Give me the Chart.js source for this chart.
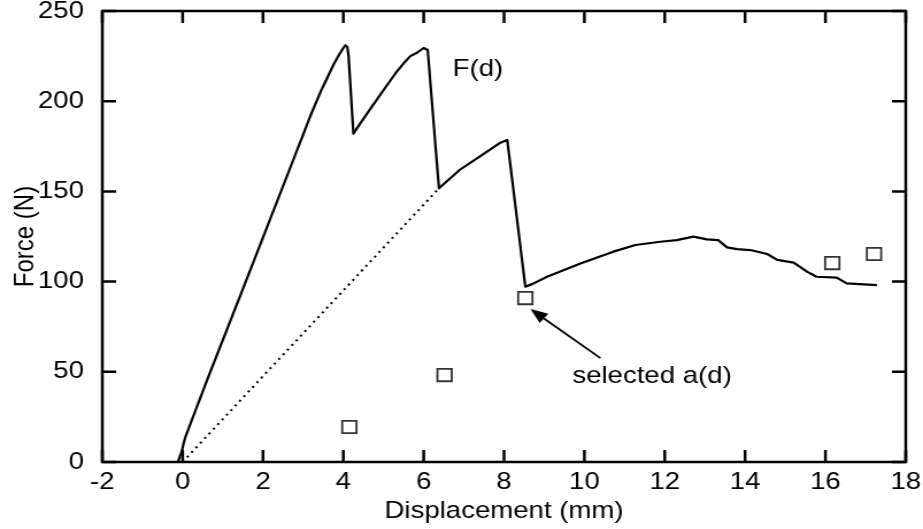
<!DOCTYPE html>
<html>
<head>
<meta charset="utf-8">
<script src="https://cdn.jsdelivr.net/npm/chart.js@4/dist/chart.umd.min.js"></script>
<style>
  html, body { margin: 0; padding: 0; background: #fff; overflow: hidden; }
  #c { display: block; width: 803px; height: 529px; transform: scaleX(1.14944); transform-origin: 0 0; }
</style>
</head>
<body>
<canvas id="c" width="803" height="529"></canvas>
<script>
// F(d) curve (mm, N)
const fdX = [-0.12, -0.02, 0.02, 0.07, 0.61, 1.5, 2.5, 3.2, 3.43, 3.6, 3.75, 3.9, 4.0, 4.05, 4.1, 4.13, 4.25,
  4.4, 4.68, 5.09, 5.3, 5.5, 5.67, 5.84, 6.0, 6.1, 6.38, 6.9, 7.41, 7.91, 8.08, 8.53,
  8.7, 9.07, 9.9, 10.72, 11.27, 11.89, 12.3, 12.71, 13.05, 13.33, 13.55, 13.8, 14.13, 14.55,
  14.8, 15.21, 15.54, 15.78, 16.28, 16.53, 17.28];
const fdY = [0, 6, 10, 14, 45.5, 96, 153, 193, 205, 213, 220, 226, 229.5, 231, 230, 225, 182,
  187, 196, 209, 215.5, 221, 225, 227, 229.5, 228.4, 151.7, 162, 169.6, 177, 178.5, 97.2,
  98.6, 102.7, 110, 116.6, 120.3, 122.1, 123, 124.9, 123.4, 123, 119, 118, 117.5, 115.3,
  112, 110.5, 105.5, 102.7, 102.2, 99, 98.1];

// dotted elastic line
const lineX = [0, 6.38];
const lineY = [0, 151.7];

// selected a(d) points
const adX = [4.15, 6.52, 8.53, 16.17, 17.21];
const adY = [19.4, 48.2, 90.9, 110.3, 115.3];

const xTicks = [-2, 0, 2, 4, 6, 8, 10, 12, 14, 16, 18];
const yTicks = [0, 50, 100, 150, 200, 250];

const FONT = '"Liberation Sans", Arial, Helvetica, sans-serif';
const TICK = 12;

const toPts = (xs, ys) => xs.map((v, i) => ({ x: v, y: ys[i] }));

const framePlugin = {
    id: "frame",
    afterDatasetsDraw(chart) {
        const { ctx, chartArea: a, scales: { x, y } } = chart;
        ctx.save();
        ctx.strokeStyle = "#000";
        ctx.lineWidth = 2.5;
        ctx.lineJoin = "miter";
        ctx.strokeRect(a.left, a.top, a.right - a.left, a.bottom - a.top);

        // inward ticks on all four sides
        ctx.beginPath();
        xTicks.forEach((v) => {
            const px = x.getPixelForValue(v);
            ctx.moveTo(px, a.bottom);
            ctx.lineTo(px, a.bottom - TICK);
            ctx.moveTo(px, a.top);
            ctx.lineTo(px, a.top + TICK);
        });
        yTicks.forEach((v) => {
            const py = y.getPixelForValue(v);
            ctx.moveTo(a.left, py);
            ctx.lineTo(a.left + TICK, py);
            ctx.moveTo(a.right, py);
            ctx.lineTo(a.right - TICK, py);
        });
        ctx.stroke();

        // labels
        ctx.fillStyle = "#000";
        ctx.font = "24px " + FONT;
        ctx.textAlign = "left";
        ctx.textBaseline = "alphabetic";
        ctx.fillText("F(d)", x.getPixelForValue(6.72), y.getPixelForValue(214));
        ctx.fillText("selected a(d)", x.getPixelForValue(9.7), y.getPixelForValue(43.8));

        // arrow to the selected point
        const tx = x.getPixelForValue(10.4), ty = y.getPixelForValue(57.6);
        const hx = x.getPixelForValue(8.66), hy = y.getPixelForValue(84.8);
        const ang = Math.atan2(hy - ty, hx - tx);
        const len = 15, half = 6;
        const bx = hx - len * Math.cos(ang), by = hy - len * Math.sin(ang);
        ctx.lineWidth = 1.8;
        ctx.beginPath();
        ctx.moveTo(tx, ty);
        ctx.lineTo(bx, by);
        ctx.stroke();
        ctx.beginPath();
        ctx.moveTo(hx, hy);
        ctx.lineTo(bx + half * Math.sin(ang), by - half * Math.cos(ang));
        ctx.lineTo(bx - half * Math.sin(ang), by + half * Math.cos(ang));
        ctx.closePath();
        ctx.fill();
        ctx.restore();
    },
};

new Chart(document.getElementById("c"), {
    type: "scatter",
    data: {
        datasets: [
            {
                label: "F(d)",
                data: toPts(fdX, fdY),
                showLine: true,
                borderColor: "#000",
                borderWidth: 2.2,
                borderJoinStyle: "round",
                pointRadius: 0,
                tension: 0,
            },
            {
                label: "elastic",
                data: toPts(lineX, lineY),
                showLine: true,
                borderColor: "#000",
                borderWidth: 2,
                borderDash: [2, 4],
                pointRadius: 0,
            },
            {
                label: "selected a(d)",
                data: toPts(adX, adY),
                pointStyle: "rect",
                pointRadius: 8.8,
                borderColor: "#333",
                borderWidth: 1.8,
                backgroundColor: "rgba(0,0,0,0)",
            },
        ],
    },
    options: {
        responsive: false,
        animation: false,
        devicePixelRatio: 1,
        layout: { padding: { left: 0, top: 11, right: 15, bottom: 0 } },
        plugins: {
            legend: { display: false },
            tooltip: { enabled: false },
        },
        scales: {
            x: {
                type: "linear",
                min: -2,
                max: 18,
                afterBuildTicks: (s) => { s.ticks = xTicks.map((v) => ({ value: v })); },
                afterFit: (s) => { s.height = 67; s.paddingLeft = 0; s.paddingRight = 0; },
                grid: { display: false },
                border: { display: false },
                ticks: { color: "#000", font: { family: FONT, size: 24 }, padding: -2, maxRotation: 0 },
                title: {
                    display: true,
                    text: "Displacement (mm)",
                    color: "#000",
                    font: { family: FONT, size: 24 },
                    padding: { top: 0, bottom: 3 },
                },
            },
            y: {
                type: "linear",
                min: 0,
                max: 250,
                afterBuildTicks: (s) => { s.ticks = yTicks.map((v) => ({ value: v })); },
                afterFit: (s) => { s.width = 89; s.paddingTop = 0; s.paddingBottom = 0; },
                grid: { display: false },
                border: { display: false },
                ticks: { color: "#000", font: { family: FONT, size: 24 }, padding: 8 },
                title: {
                    display: true,
                    text: "Force (N)",
                    color: "#000",
                    font: { family: FONT, size: 24 },
                    padding: { top: 7.5, bottom: 0 },
                },
            },
        },
    },
    plugins: [framePlugin],
});
</script>
</body>
</html>
